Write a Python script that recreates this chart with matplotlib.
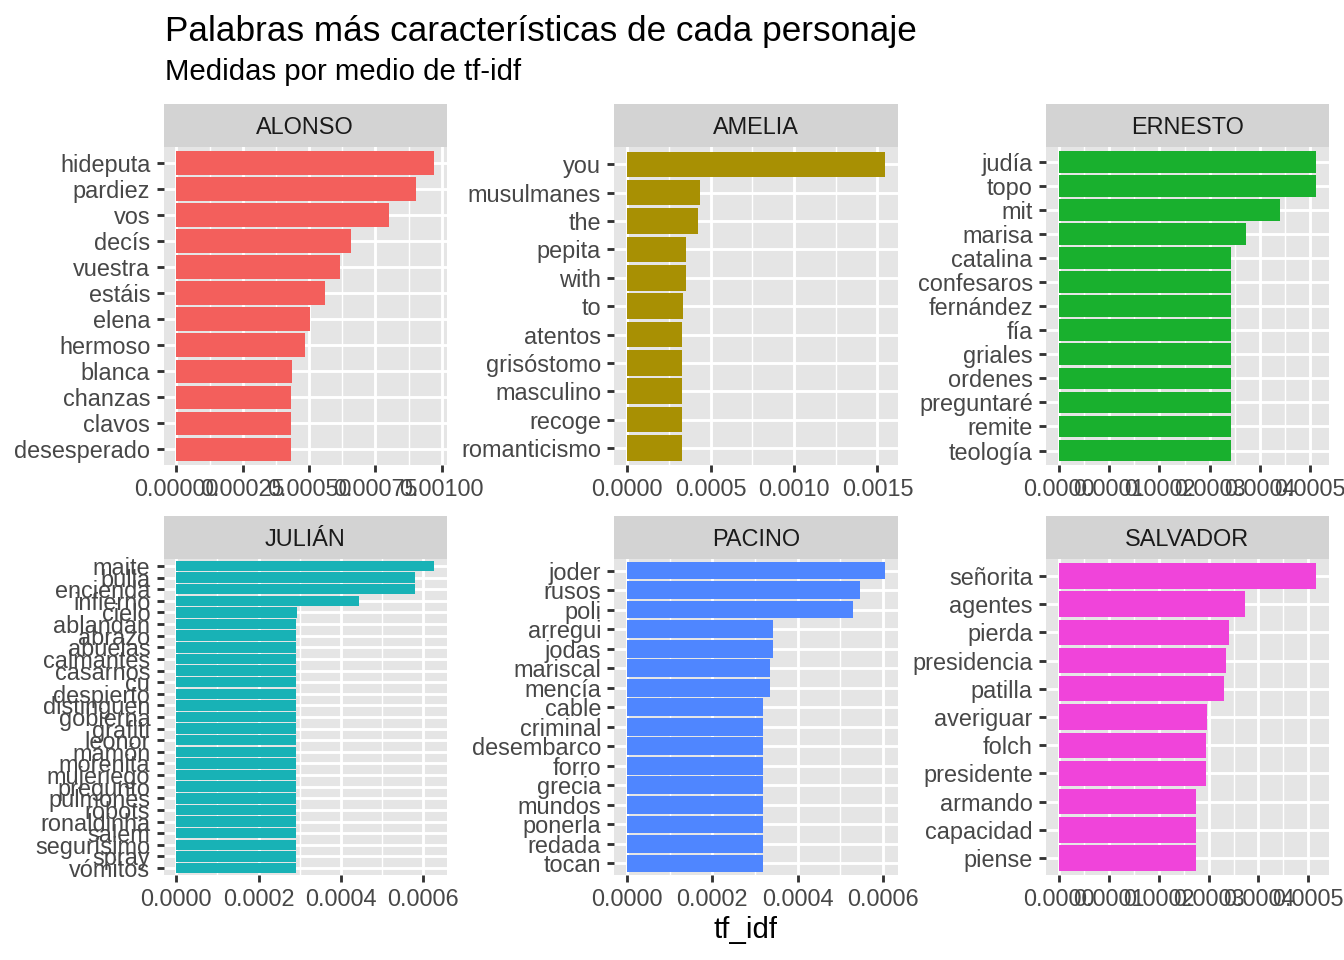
import numpy as np
from matplotlib import pyplot as plt
from matplotlib.patches import Rectangle

plt.rcParams['font.family'] = ['Liberation Sans', 'DejaVu Sans']

# data (words top to bottom, tf-idf values)
characters = ["ALONSO", "AMELIA", "ERNESTO", "JULIÁN", "PACINO", "SALVADOR"]

alonso_words = ["hideputa", "pardiez", "vos", "decís", "vuestra", "estáis", "elena",
                "hermoso", "blanca", "chanzas", "clavos", "desesperado"]
alonso_vals = [0.000970, 0.000902, 0.000801, 0.000658, 0.000617, 0.000560, 0.000504,
               0.000485, 0.000436, 0.000432, 0.000432, 0.000432]

amelia_words = ["you", "musulmanes", "the", "pepita", "with", "to", "atentos",
                "grisóstomo", "masculino", "recoge", "romanticismo"]
amelia_vals = [0.001544, 0.000438, 0.000426, 0.000355, 0.000355, 0.000337, 0.000331,
               0.000331, 0.000331, 0.000331, 0.000331]

ernesto_words = ["judía", "topo", "mit", "marisa", "catalina", "confesaros", "fernández",
                 "fía", "griales", "ordenes", "preguntaré", "remite", "teología"]
ernesto_vals = [0.000511, 0.000511, 0.000439, 0.000372, 0.000342, 0.000342, 0.000342,
                0.000342, 0.000342, 0.000342, 0.000342, 0.000342, 0.000342]

julian_words = ["maite", "bulla", "encienda", "infierno", "cielo", "ablandan", "abrazo",
                "abuelas", "calmantes", "casarnos", "cu", "despierto", "distinguen",
                "gobierna", "grafiti", "leonor", "mamón", "morenita", "mujeriego",
                "pregunto", "pulmones", "robots", "ronaldinha", "salem", "segurísimo",
                "spray", "vómitos"]
julian_vals = [0.000626, 0.000580, 0.000580, 0.000444, 0.000294] + [0.000291] * 22

pacino_words = ["joder", "rusos", "poli", "arregui", "jodas", "mariscal", "mencía",
                "cable", "criminal", "desembarco", "forro", "grecia", "mundos",
                "ponerla", "redada", "tocan"]
pacino_vals = [0.000605, 0.000547, 0.000530, 0.000343, 0.000343, 0.000336, 0.000336,
               0.000319, 0.000319, 0.000319, 0.000319, 0.000319, 0.000319,
               0.000319, 0.000319, 0.000319]

salvador_words = ["señorita", "agentes", "pierda", "presidencia", "patilla", "averiguar",
                  "folch", "presidente", "armando", "capacidad", "piense"]
salvador_vals = [0.000515, 0.000373, 0.000341, 0.000335, 0.000331, 0.000297,
                 0.000295, 0.000295, 0.000275, 0.000275, 0.000275]

# x ticks per panel (free scales) and decimals shown
alonso_ticks = [0, 0.00025, 0.0005, 0.00075, 0.001]
amelia_ticks = [0, 0.0005, 0.001, 0.0015]
ernesto_ticks = [0, 0.0001, 0.0002, 0.0003, 0.0004, 0.0005]
julian_ticks = [0, 0.0002, 0.0004, 0.0006]
pacino_ticks = [0, 0.0002, 0.0004, 0.0006]
salvador_ticks = [0, 0.0001, 0.0002, 0.0003, 0.0004, 0.0005]

colors = ["#F35F5C", "#A89003", "#19B02E", "#18B2B6", "#4F86FF", "#F044DA"]

W, H = 1344, 960
cols_px = [(163.5, 446.7), (614.3, 897.7), (1046, 1328.7)]
rows_px = [(147.3, 465), (559, 875)]
strip_h = 43.3

TEXT_GREY = "#474747"


def draw_panel(fig, col, row, name, words, vals, ticks, fmt, color):
    x0, x1 = cols_px[col]
    y0, y1 = rows_px[row]
    ax = fig.add_axes([x0 / W, 1 - y1 / H, (x1 - x0) / W, (y1 - y0) / H])
    ax.set_facecolor("#E5E5E5")
    n = len(words)
    ypos = np.arange(n)[::-1]

    vmax = max(vals)
    ax.set_xlim(-0.05 * vmax, 1.05 * vmax)
    ax.set_ylim(-0.6, n - 0.4)

    # grid: minor lines half way between major ticks
    step = ticks[1] - ticks[0]
    minors = [t + step / 2 for t in [ticks[0] - step] + list(ticks)]
    for m in minors:
        ax.axvline(m, color="white", lw=0.53, zorder=0)
    for t in ticks:
        ax.axvline(t, color="white", lw=1.07, zorder=0)
    for y in ypos:
        ax.axhline(y, color="white", lw=1.07, zorder=0)

    ax.barh(ypos, vals, height=0.9, color=color, zorder=2)

    ax.set_xticks(ticks)
    ax.set_xticklabels([fmt.format(t) for t in ticks])
    ax.set_yticks(ypos)
    ax.set_yticklabels(words)
    ax.tick_params(axis="both", length=2.75, width=1.07, color="#333333",
                   labelsize=8.8, labelcolor=TEXT_GREY, pad=2.2)
    for s in ax.spines.values():
        s.set_visible(False)

    # facet strip
    fig.patches.append(Rectangle((x0 / W, 1 - y0 / H), (x1 - x0) / W, strip_h / H,
                                 transform=fig.transFigure, facecolor="#D3D3D3",
                                 edgecolor="none"))
    fig.text((x0 + x1) / 2 / W, 1 - (y0 - strip_h / 2 + 2) / H, name, ha="center",
             va="center", fontsize=8.8, color="#1A1A1A")
    return ax


def main():
    fig = plt.figure(figsize=(7, 5), dpi=192)

    panels = [
        (alonso_words, alonso_vals, alonso_ticks, "{:.5f}"),
        (amelia_words, amelia_vals, amelia_ticks, "{:.4f}"),
        (ernesto_words, ernesto_vals, ernesto_ticks, "{:.4f}"),
        (julian_words, julian_vals, julian_ticks, "{:.4f}"),
        (pacino_words, pacino_vals, pacino_ticks, "{:.4f}"),
        (salvador_words, salvador_vals, salvador_ticks, "{:.4f}"),
    ]
    for i, (words, vals, ticks, fmt) in enumerate(panels):
        draw_panel(fig, i % 3, i // 3, characters[i], words, vals, ticks, fmt, colors[i])

    fig.text(165 / W, 1 - 41 / H, "Palabras más características de cada personaje",
             fontsize=13.2, va="baseline", ha="left", color="black")
    fig.text(165 / W, 1 - 80 / H, "Medidas por medio de tf-idf",
             fontsize=11, va="baseline", ha="left", color="black")
    fig.text(746 / W, 1 - 930 / H, "tf_idf", fontsize=11, ha="center",
             va="center", color="black")

    fig.savefig("out.png", dpi=192)


if __name__ == "__main__":
    main()
